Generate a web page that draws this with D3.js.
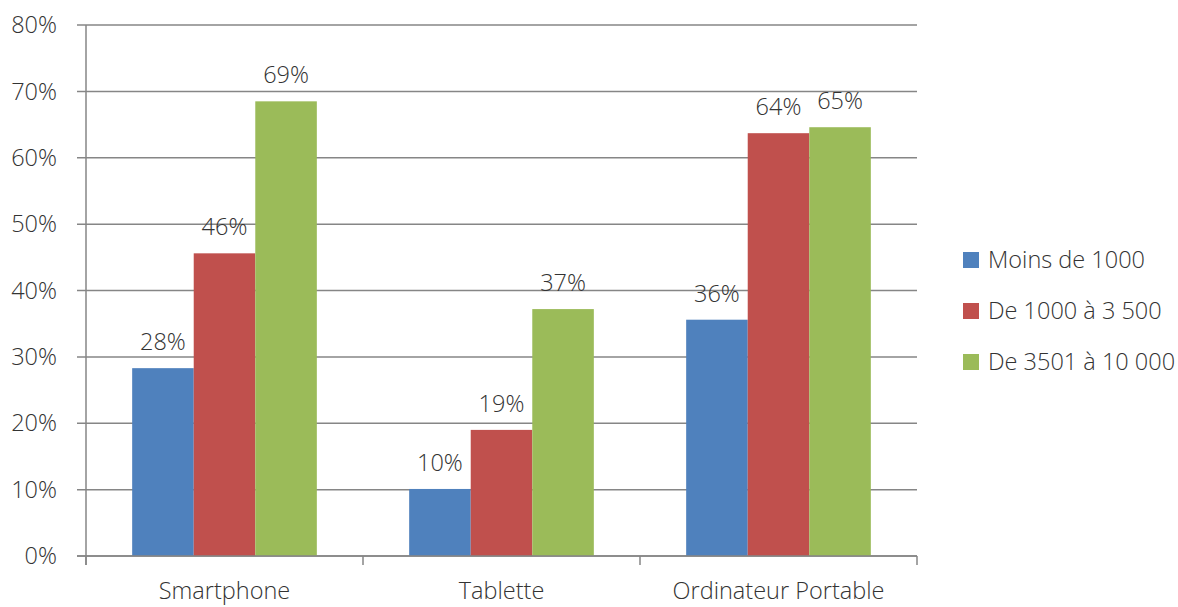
<!DOCTYPE html>
<html lang="fr">
<head>
    <meta charset="UTF-8">
    <title>Équipement par tranche</title>
    <script src="https://d3js.org/d3.v7.min.js"></script>
    <style>
        body {
            margin: 0;
            padding: 0;
            background: #fff;
        }
        svg text {
            font-family: "Open Sans", "Noto Sans", sans-serif;
            font-weight: 300;
            font-size: 23.5px;
            fill: #333;
        }
    </style>
</head>
<body>
    <svg width="1178" height="607"></svg>
    <script>
        // Data
        const categories = ["Smartphone", "Tablette", "Ordinateur Portable"];
        const seriesNames = ["Moins de 1000", "De 1000 à 3 500", "De 3501 à 10 000"];
        const seriesColors = ["#4f81bd", "#c0504d", "#9bbb59"];
        const moins1000 = [0.283, 0.101, 0.356];
        const de1000a3500 = [0.456, 0.190, 0.637];
        const de3501a10000 = [0.685, 0.372, 0.646];
        const yTicks = [0, 0.1, 0.2, 0.3, 0.4, 0.5, 0.6, 0.7, 0.8];

        const seriesValues = [moins1000, de1000a3500, de3501a10000];

        const svg = d3.select("svg");
        const plot = { left: 86, right: 917, top: 25, bottom: 556 };

        const y = d3.scaleLinear().domain([0, 0.8]).range([plot.bottom, plot.top]);
        const x0 = d3.scaleBand().domain(categories).range([plot.left, plot.right]).padding(0);
        // gap width 150% -> outer padding 0.75 of a bar
        const x1 = d3.scaleBand().domain(d3.range(seriesNames.length))
            .range([0, x0.bandwidth()]).paddingInner(0).paddingOuter(0.75);

        const fmt = d3.format(".0%");

        // Gridlines + y labels
        const grid = svg.append("g");
        grid.selectAll("line")
            .data(yTicks)
            .join("line")
            .attr("x1", plot.left - 9)
            .attr("x2", plot.right)
            .attr("y1", d => y(d))
            .attr("y2", d => y(d))
            .attr("stroke", "#868686")
            .attr("stroke-width", 1.5);

        grid.selectAll("text")
            .data(yTicks)
            .join("text")
            .attr("x", 57)
            .attr("y", d => y(d))
            .attr("dy", "0.35em")
            .attr("text-anchor", "end")
            .text(d => fmt(d));

        // Bars
        const groups = svg.append("g")
            .selectAll("g")
            .data(categories)
            .join("g")
            .attr("transform", d => `translate(${x0(d)},0)`);

        groups.selectAll("rect")
            .data((d, ci) => seriesValues.map((vals, si) => ({ si, v: vals[ci] })))
            .join("rect")
            .attr("x", d => x1(d.si))
            .attr("width", x1.bandwidth())
            .attr("y", d => y(d.v))
            .attr("height", d => y(0) - y(d.v))
            .attr("fill", d => seriesColors[d.si]);

        // Data labels
        groups.selectAll("text")
            .data((d, ci) => seriesValues.map((vals, si) => ({ si, v: vals[ci] })))
            .join("text")
            .attr("x", d => x1(d.si) + x1.bandwidth() / 2)
            .attr("y", d => y(d.v) - 18)
            .attr("text-anchor", "middle")
            .text(d => fmt(d.v));

        // Axis lines
        svg.append("line")
            .attr("x1", plot.left).attr("x2", plot.left)
            .attr("y1", plot.top).attr("y2", plot.bottom + 9)
            .attr("stroke", "#868686").attr("stroke-width", 1.5);
        svg.append("line")
            .attr("x1", plot.left - 9).attr("x2", plot.right)
            .attr("y1", plot.bottom).attr("y2", plot.bottom)
            .attr("stroke", "#868686").attr("stroke-width", 1.5);

        // Category ticks
        const catTicks = categories.map(c => x0(c)).concat([plot.right]);
        svg.append("g").selectAll("line")
            .data(catTicks)
            .join("line")
            .attr("x1", d => d).attr("x2", d => d)
            .attr("y1", plot.bottom).attr("y2", plot.bottom + 9)
            .attr("stroke", "#868686").attr("stroke-width", 1.5);

        // Category labels
        svg.append("g").selectAll("text")
            .data(categories)
            .join("text")
            .attr("x", d => x0(d) + x0.bandwidth() / 2)
            .attr("y", 599)
            .attr("text-anchor", "middle")
            .text(d => d);

        // Legend
        const legend = svg.append("g")
            .selectAll("g")
            .data(seriesNames)
            .join("g")
            .attr("transform", (d, i) => `translate(963,${260 + i * 51})`);

        legend.append("rect")
            .attr("x", 0).attr("y", -8)
            .attr("width", 16).attr("height", 16)
            .attr("fill", (d, i) => seriesColors[i]);

        legend.append("text")
            .attr("x", 25)
            .attr("y", 0)
            .attr("dy", "0.35em")
            .text(d => d);
    </script>
</body>
</html>
